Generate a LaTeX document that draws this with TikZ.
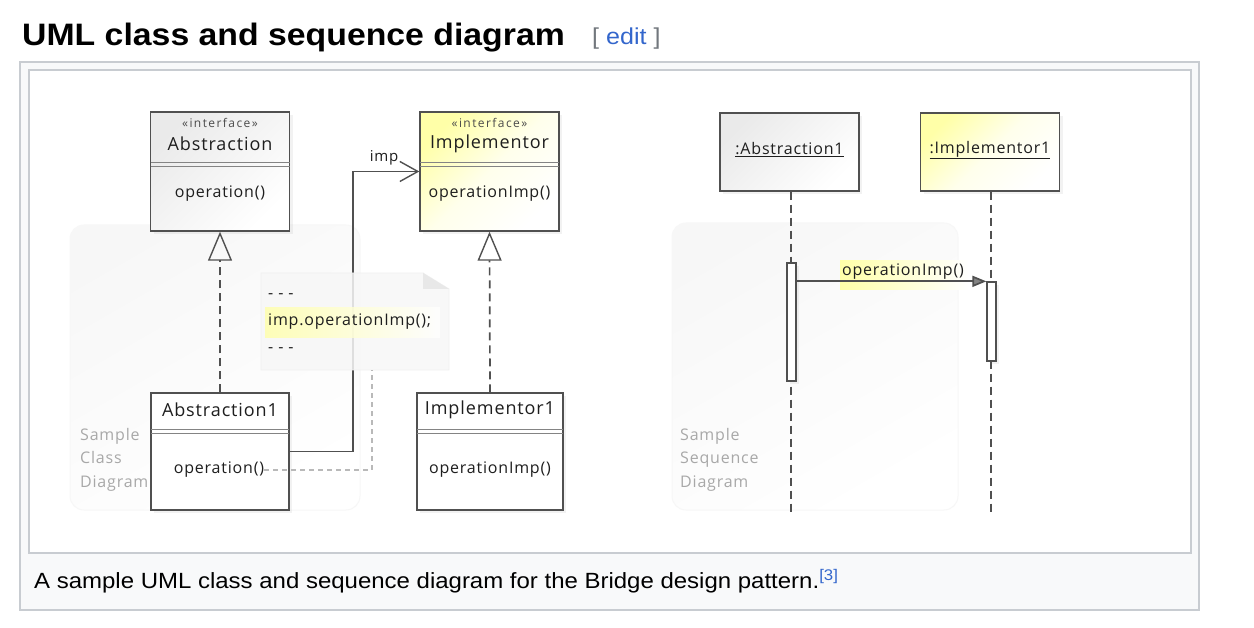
\documentclass[tikz,border=0pt]{standalone}
\usepackage{fontspec}
\setmainfont{Liberation Sans}
\newfontfamily\wide{Liberation Sans}[FakeStretch=1.09]
\newfontfamily\df{Open Sans}[LetterSpace=5]
\newfontfamily\dfw{Open Sans}[LetterSpace=12]
\usetikzlibrary{arrows.meta,shadows}
\definecolor{frameC}{HTML}{C8CCD1}
\definecolor{capbg}{HTML}{F8F9FA}
\definecolor{linkC}{HTML}{3366CC}
\definecolor{lineC}{HTML}{505050}
\definecolor{ylw}{HTML}{FFFFA8}
\definecolor{gry}{HTML}{EAEAEA}
\definecolor{txtC}{HTML}{1E1E1E}
\definecolor{sampleC}{HTML}{A8A8A8}
\definecolor{bracketC}{HTML}{72777D}
\tikzset{
  cls/.style={draw=lineC, line width=1.4pt, inner sep=0pt,
    drop shadow={opacity=0.10, shadow xshift=3pt, shadow yshift=-3pt}},
  grayfill/.style={top color=gry, bottom color=white, shading angle=45},
  ylwfill/.style={top color=ylw, bottom color=white, middle color=ylw!22, shading angle=45},
  whitefill/.style={fill=white},
  lbl/.style={inner sep=0pt, text=txtC, font=\df\fontsize{16}{19}\selectfont},
  big/.style={inner sep=0pt, text=txtC, font=\df\fontsize{18}{21}\selectfont},
  stereo/.style={inner sep=0pt, text=txtC!80, font=\dfw\fontsize{12}{14}\selectfont},
  sample/.style={inner sep=0pt, text=sampleC, font=\df\fontsize{16}{23.5}\selectfont, align=left, anchor=north west},
  sep/.style={draw=lineC!70, line width=0.9pt},
  realize/.style={draw=lineC, line width=1.7pt, dash pattern=on 8pt off 5pt,
    -{Triangle[open, length=29pt, width=24pt, line width=1.4pt]}},
  assoc/.style={draw=lineC, line width=1.7pt, -{Straight Barb[length=18pt, width=20pt, line width=1.4pt]}},
  notelink/.style={draw=gray!55, line width=1.1pt, dash pattern=on 5pt off 4pt},
  lifeline/.style={draw=lineC, line width=1.7pt, dash pattern=on 8pt off 5pt},
  actbar/.style={draw=lineC, line width=1.3pt, fill=white, inner sep=0pt,
    drop shadow={opacity=0.10, shadow xshift=3pt, shadow yshift=-3pt}},
  msg/.style={draw=lineC, line width=1.7pt, -{Triangle[length=14pt, width=11pt, fill=lineC!70]}},
  panel/.style={draw=gray!6, top color=gray!6, bottom color=white, shading angle=30, rounded corners=14pt, line width=1pt}
}
\begin{document}
\begin{tikzpicture}[x=1pt,y=-1pt]
\useasboundingbox (0,0) rectangle (1254,628);
\fill[white] (0,0) rectangle (1254,628);

% heading
\node[anchor=base west, inner sep=0pt, font=\wide\bfseries\fontsize{31}{36}\selectfont] (title) at (22,46) {UML class and sequence diagram};
\node[anchor=base west, inner sep=0pt, font=\wide\fontsize{23}{27}\selectfont, text=bracketC] (edit) at (592,45) {[ \textcolor{linkC}{edit} ]};

% frame
\draw[frameC, fill=capbg, line width=1.3pt] (20,62) rectangle (1199,610);
\draw[frameC, fill=white, line width=1.3pt] (29,70) rectangle (1191,553);

% caption
\node[anchor=base west, inner sep=0pt, font=\wide\fontsize{22}{26}\selectfont] (cap) at (34,588)
  {A sample UML class and sequence diagram for the Bridge design pattern.\textsuperscript{\textcolor{linkC}{[3]}}};

% panels
\path[panel] (70,225) rectangle (360,510);
\path[panel] (672,223) rectangle (958,510);
\node[sample] (scd) at (80,428) {Sample\\Class\\Diagram};
\node[sample] (ssd) at (680,428) {Sample\\Sequence\\Diagram};

% class boxes
\node[cls, grayfill, minimum width=139pt, minimum height=119pt] (abs) at (220,171.5) {};
\node[cls, ylwfill, minimum width=139pt, minimum height=119pt] (imp) at (489.5,171.5) {};
\node[cls, whitefill, minimum width=138pt, minimum height=117pt] (abs1) at (220,451.5) {};
\node[cls, whitefill, minimum width=146pt, minimum height=117pt] (imp1) at (490,451.5) {};

\draw[sep] (150.5,162) -- (289.5,162) (150.5,166) -- (289.5,166);
\draw[sep] (420,162) -- (559,162) (420,166) -- (559,166);
\draw[sep] (151,429) -- (289,429) (151,433) -- (289,433);
\draw[sep] (417,429) -- (563,429) (417,433) -- (563,433);

\node[stereo] (s1) at (220,123) {«interface»};
\node[big] (t1) at (220,144) {Abstraction};
\node[lbl] (o1) at (220,194) {operation()};
\node[stereo] (s2) at (489.5,123) {«interface»};
\node[big] (t2) at (489.5,144) {Implementor};
\node[lbl] (o2) at (489.5,194) {operationImp()};
\node[big] (t3) at (220,410) {Abstraction1};
\node[lbl] (op1) at (219,470) {operation()};
\node[big] (t4) at (490,410) {Implementor1};
\node[lbl] (o4) at (490,470) {operationImp()};

% connectors
\draw[realize] (abs1.north) -- (abs.south);
\draw[realize] (imp1.north) -- (imp.south);
\draw[assoc] (abs1.east) -- ++(63,0) |- (imp.west);
\node[inner sep=0pt, text=txtC, font=\df\fontsize{15}{18}\selectfont] (implbl) at (384,158) {imp};

% note
\coordinate (nb) at (372,370);
\fill[gray!6, opacity=0.85] (261,273) -- (423,273) -- (449,289) -- (449,370) -- (261,370) -- cycle;
\draw[gray!12, line width=0.8pt] (261,273) -- (423,273) -- (449,289) -- (449,370) -- (261,370) -- cycle;
\fill[gray!18] (423,273) -- (423,289) -- (449,289) -- cycle;
\shade[left color=ylw, right color=white, opacity=0.8] (265,308) rectangle (440,338);
\node[lbl, anchor=west] (n1) at (268,296) {- - -};
\node[lbl, anchor=west] (n2) at (268,322) {imp.operationImp();};
\node[lbl, anchor=west] (n3) at (268,350) {- - -};
\draw[notelink] (op1.east) -| (nb);

% sequence
\node[cls, grayfill, minimum width=139pt, minimum height=78pt] (sa) at (789.5,152) {};
\node[cls, ylwfill, minimum width=139pt, minimum height=78pt] (si) at (990,152) {};
\node[lbl] (sat) at (789.5,150) {\underline{:Abstraction1}};
\node[lbl] (sit) at (990,150) {\underline{:Implementor1}};
\coordinate (la) at (791,512);
\coordinate (li) at (991,512);
\draw[lifeline] (sa.south -| la) -- (la);
\draw[lifeline] (si.south -| li) -- (li);
\node[actbar, minimum width=9pt, minimum height=118pt] (act1) at (791.5,322) {};
\node[actbar, minimum width=9pt, minimum height=79pt] (act2) at (991.5,321.5) {};
\shade[left color=ylw, right color=white] (840,261) rectangle (970,290);
\node[lbl] (ml) at (903,272) {operationImp()};
\draw[msg] (act1.east |- act2.north west) -- (act2.north west);
\end{tikzpicture}
\end{document}
